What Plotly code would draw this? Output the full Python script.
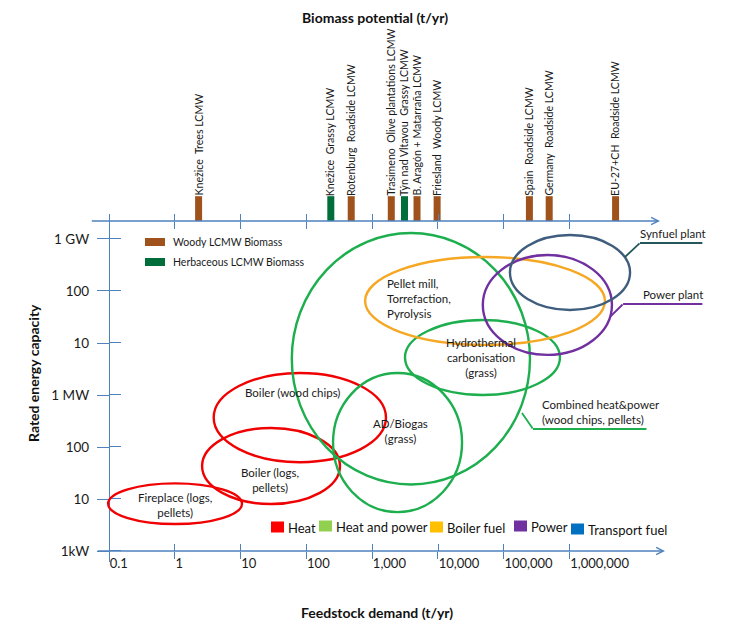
import numpy as np
import plotly.graph_objects as go

# ---------------- data ----------------
# Top strip: biomass potential of LCMW case studies (t/yr)
site_labels = ["Knežice\u00a0 Trees LCMW", "Knežice\u00a0 Grassy LCMW", "Rotenburg\u00a0 Roadside LCMW",
               "Trasimeno\u00a0 Olive plantations LCMW", "Týn nad Vltavou\u00a0 Grassy LCMW",
               "B. Aragón + Matarraña LCMW", "Friesland\u00a0 Woody LCMW",
               "Spain\u00a0 Roadside LCMW", "Germany\u00a0 Roadside LCMW", "EU-27+CH\u00a0 Roadside LCMW"]
site_potential = [2.3, 235, 480, 1950, 3100, 4800, 9700, 245000, 490000, 5000000]
site_type = ["Woody", "Herbaceous", "Woody", "Woody", "Herbaceous",
             "Woody", "Woody", "Woody", "Woody", "Woody"]

# Technology envelopes: feedstock demand (t/yr) x rated capacity (kW)
tech_names = ["Fireplace (logs,<br>pellets)", "Boiler (logs,<br>pellets)", "Boiler (wood chips)",
              "Combined heat&power", "AD/Biogas<br>(grass)", "Hydrothermal<br>carbonisation<br>(grass)",
              "Pellet mill,<br>Torrefaction,<br>Pyrolysis", "Power plant", "Synfuel plant"]
tech_group = ["Heat", "Heat", "Heat", "Heat and power", "Heat and power", "Heat and power",
              "Boiler fuel", "Power", "Transport fuel"]
feed_min = [0.097, 2.6, 3.9, 60, 254, 3150, 780, 48000, 124000]
feed_max = [10.5, 324, 1620, 250000, 23200, 714000, 3450000, 4400000, 8300000]
cap_min = [3.3, 8.0, 51, 19, 5.6, 1000, 9200, 5900, 43000]
cap_max = [20, 232, 2650, 1300000, 2650, 27700, 451000, 492000, 1190000]

# Inside-label anchor points (t/yr, kW)
inner_idx = [0, 1, 2, 4, 5, 6]
inner_x = [1.0, 28, 62, 2700, 45000, 1570]
inner_y = [7.7, 23, 1140, 203, 5380, 70200]

# Call-out labels with leader lines (t/yr, kW)
callout_text = ["Synfuel plant", "Power plant", "Combined heat&power<br>(wood chips, pellets)"]
callout_x = [1.1e7, 1.22e7, 355000]
leader_x = [[6.95e6, 1.175e7, 1.06e8], [4.1e6, 6.5e6, 1.06e8], [189000, 278000, 1.5e7]]
leader_y = [[451000, 838000, 838000], [31600, 56200, 56200], [451, 222, 222]]

x_tick_vals = [0.1, 1, 10, 100, 1000, 10000, 100000, 1000000]
x_tick_text = ["0.1", "1", "10", "100", "1,000", "10,000", "100,000", "1,000,000"]
y_tick_vals = [1, 10, 100, 1000, 10000, 100000, 1000000]
y_tick_text = ["1kW", "10", "100", "1 MW", "10", "100", "1 GW"]

legend_groups = ["Heat", "Heat and power", "Boiler fuel", "Power", "Transport fuel"]
site_legend = ["Woody LCMW Biomass", "Herbaceous LCMW Biomass"]

# ---------------- styles ----------------
FONT = "Lato, 'Open Sans', sans-serif"
AXIS = "#4F81BD"
TXT = "#1a1a1a"
site_colors = {"Woody": "#A0521C", "Herbaceous": "#006E3A"}
ell_colors = {"Heat": "#F00000", "Heat and power": "#1DAE4E", "Boiler fuel": "#F6A723",
              "Power": "#7030A0", "Transport fuel": "#3F5E7E"}
legend_colors = {"Heat": "#FF0000", "Heat and power": "#92D050", "Boiler fuel": "#FFC000",
                 "Power": "#7030A0", "Transport fuel": "#0070C0"}
leader_colors = ["#24585C", "#7030A0", "#1DAE4E"]

OFF = 8                       # page offset of the figure inside the browser window
W, H = 750 - OFF, 630 - OFF
ML, MR, MT, MB = 91 - OFF, 40, 0, 68
PW, PH = W - ML - MR, H - MT - MB


def PX(px):
    return (px - OFF - ML) / PW


def PY(py):
    return (H - MB - (py - OFF)) / PH


X_RANGE = [-1.2736, 8.134]
Y_RANGE = [-0.2115, 6.596]
Y2_SPAN = 221
BAR_H = 21

fig = go.Figure()

# invisible trace to activate the main subplot
fig.add_trace(go.Scatter(x=feed_min + feed_max, y=cap_min + cap_max, mode="markers",
                         marker=dict(opacity=0), hoverinfo="skip", showlegend=False,
                         xaxis="x", yaxis="y"))

# bars of the top strip
for t in ["Woody", "Herbaceous"]:
    xs = [p for p, s in zip(site_potential, site_type) if s == t]
    fig.add_trace(go.Scatter(x=xs, y=[BAR_H / 2] * len(xs), mode="markers",
                             marker=dict(symbol="line-ns", size=BAR_H,
                                         line=dict(width=7, color=site_colors[t])),
                             xaxis="x2", yaxis="y2", showlegend=False, hoverinfo="skip"))

shapes = []
annotations = []

# ellipses
for i in range(len(tech_names)):
    shapes.append(dict(type="circle", xref="x", yref="y", x0=feed_min[i], x1=feed_max[i],
                       y0=cap_min[i], y1=cap_max[i],
                       line=dict(color=ell_colors[tech_group[i]], width=2.4)))

# inside labels
for k, i in enumerate(inner_idx):
    annotations.append(dict(xref="x", yref="y", x=np.log10(inner_x[k]), y=np.log10(inner_y[k]),
                            text=tech_names[i], showarrow=False,
                            align="left" if i == 6 else "center",
                            xanchor="left" if i == 6 else "center", yanchor="middle",
                            font=dict(size=11.5, color=TXT)))

# leader lines + callouts
for k in range(len(callout_text)):
    lx, ly = leader_x[k], leader_y[k]
    for j in range(len(lx) - 1):
        annotations.append(dict(xref="x", yref="y", axref="x", ayref="y",
                                x=np.log10(lx[j]), y=np.log10(ly[j]),
                                ax=np.log10(lx[j + 1]), ay=np.log10(ly[j + 1]),
                                text="", showarrow=True, arrowhead=0, arrowwidth=1.8,
                                arrowcolor=leader_colors[k], standoff=0, borderpad=0))
    annotations.append(dict(xref="x", yref="y", x=np.log10(callout_x[k]), y=np.log10(ly[-1]),
                            text=callout_text[k], showarrow=False, xanchor="left",
                            yanchor="bottom", align="left", yshift=1,
                            font=dict(size=11.5, color=TXT)))

# axis arrows
annotations.append(dict(xref="x", yref="y", axref="x", ayref="y", x=7.45, y=0, ax=-1.18, ay=0,
                        text="", showarrow=True, arrowhead=5, arrowsize=1.1, arrowwidth=1.3,
                        arrowcolor=AXIS, standoff=0, borderpad=0))
annotations.append(dict(xref="x2", yref="y2", axref="x2", ayref="y2", x=7.374, y=0, ax=-1.27, ay=0,
                        text="", showarrow=True, arrowhead=5, arrowsize=1.1, arrowwidth=1.3,
                        arrowcolor=AXIS, standoff=0, borderpad=0))

# rotated site labels
for lab, p in zip(site_labels, site_potential):
    annotations.append(dict(xref="x2", yref="y2", x=np.log10(p), y=25, text=lab, textangle=-90,
                            showarrow=False, xanchor="center", yanchor="bottom", borderpad=0,
                            font=dict(size=10.6, color=TXT)))

# top-left legend
for k, t in enumerate(["Woody", "Herbaceous"]):
    yc = 242 + 20 * k
    shapes.append(dict(type="rect", xref="paper", yref="paper", x0=PX(145), x1=PX(165),
                       y0=PY(yc + 4), y1=PY(yc - 4), line=dict(width=0),
                       fillcolor=site_colors[t]))
    annotations.append(dict(xref="paper", yref="paper", x=PX(171), y=PY(yc), text=site_legend[k],
                            showarrow=False, xanchor="left", yanchor="middle",
                            font=dict(size=10.5, color=TXT)))

# bottom legend
leg_sq_x = [271, 319, 430, 514, 571]
leg_sq_y = [527, 526, 527, 526, 529]
for k, g in enumerate(legend_groups):
    x0 = leg_sq_x[k]
    yc = leg_sq_y[k]
    shapes.append(dict(type="rect", xref="paper", yref="paper", x0=PX(x0), x1=PX(x0 + 13),
                       y0=PY(yc + 5.5), y1=PY(yc - 5.5), line=dict(width=0),
                       fillcolor=legend_colors[g]))
    annotations.append(dict(xref="paper", yref="paper", x=PX(x0 + 15), y=PY(yc + 1), text=g,
                            showarrow=False, xanchor="left", yanchor="middle",
                            font=dict(size=13, color="#111")))

# titles
annotations.append(dict(xref="paper", yref="paper", x=PX(375), y=PY(OFF), borderpad=0,
                        text="<b>Biomass potential (t/yr)</b>", showarrow=False,
                        xanchor="center", yanchor="top",
                        font=dict(size=14, color="#111")))
annotations.append(dict(xref="paper", yref="paper", x=PX(377), y=PY(612),
                        text="<b>Feedstock demand (t/yr)</b>", showarrow=False,
                        xanchor="center", yanchor="middle",
                        font=dict(size=14, color="#111")))
annotations.append(dict(xref="paper", yref="paper", x=PX(33), y=PY(373),
                        text="<b>Rated energy capacity</b>", showarrow=False, textangle=-90,
                        xanchor="center", yanchor="middle",
                        font=dict(size=14, color="#111")))

tick_common = dict(tickcolor=AXIS, tickwidth=1.3)

fig.update_layout(
    width=W, height=H,
    margin=dict(l=ML, r=MR, t=MT, b=MB),
    paper_bgcolor="white", plot_bgcolor="white",
    showlegend=False,
    font=dict(family=FONT, size=12, color=TXT),
    xaxis=dict(type="log", range=X_RANGE, domain=[0, 1], anchor="free", position=PY(551),
               showline=False, showgrid=False, zeroline=False,
               tickmode="array", tickvals=x_tick_vals, ticktext=x_tick_text,
               ticks="outside", ticklen=7, ticklabelposition="outside right",
               tickfont=dict(size=13, color=TXT),
               minor=dict(tickmode="array", tickvals=[v * 1.002 for v in x_tick_vals],
                          ticks="inside", ticklen=7, showgrid=False, **tick_common),
               **tick_common),
    yaxis=dict(type="log", range=Y_RANGE, domain=[0, PY(208)], anchor="free", position=PX(109),
               showline=True, linecolor=AXIS, linewidth=1.3,
               showgrid=False, zeroline=False,
               tickmode="array", tickvals=y_tick_vals, ticktext=y_tick_text,
               ticks="outside", ticklen=12, ticklabelstandoff=5,
               tickfont=dict(size=13.5, color=TXT),
               minor=dict(tickmode="array", tickvals=[v * 1.002 for v in y_tick_vals],
                          ticks="inside", ticklen=11, showgrid=False, **tick_common),
               **tick_common),
    xaxis2=dict(type="log", range=X_RANGE, domain=[0, 1], anchor="y2",
                showline=False, showgrid=False, zeroline=False, showticklabels=False,
                tickmode="array", tickvals=x_tick_vals, ticks="outside", ticklen=7,
                minor=dict(tickmode="array", tickvals=[v * 1.002 for v in x_tick_vals],
                           ticks="inside", ticklen=7, showgrid=False, **tick_common),
                **tick_common),
    yaxis2=dict(domain=[PY(221), 1], range=[0, Y2_SPAN], anchor="x2", visible=False),
    shapes=shapes,
    annotations=annotations,
)

fig.write_html("out.html")
